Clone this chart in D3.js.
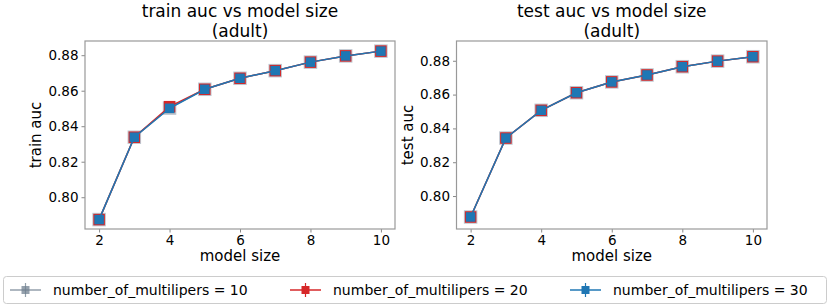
<!DOCTYPE html>
<html>
<head>
<meta charset="utf-8">
<script src="https://cdn.jsdelivr.net/npm/d3@7"></script>
<style>
  body { margin: 0; background: #fff; }
  text { font-family: "DejaVu Sans", sans-serif; fill: #000; }
</style>
</head>
<body>
<svg id="chart" width="830" height="308"></svg>
<script>
// model sizes on the x axis
const modelSizes = [2, 3, 4, 5, 6, 7, 8, 9, 10];
const xTicks = [2, 4, 6, 8, 10];
const yTicks = [0.80, 0.82, 0.84, 0.86, 0.88];

// train auc per number of multipliers
const train10 = [0.7874, 0.8338, 0.8502, 0.8608, 0.8670, 0.8713, 0.8761, 0.8796, 0.8823];
const train20 = [0.7874, 0.8338, 0.8510, 0.8608, 0.8670, 0.8713, 0.8761, 0.8796, 0.8823];
const train30 = [0.7874, 0.8338, 0.8501, 0.8608, 0.8670, 0.8713, 0.8761, 0.8796, 0.8823];
const trainErr = [0.0003, 0.0003, 0.0004, 0.0003, 0.0003, 0.0003, 0.0003, 0.0003, 0.0003];

// test auc per number of multipliers
const test10 = [0.7876, 0.8343, 0.8507, 0.8611, 0.8675, 0.8716, 0.8765, 0.8798, 0.8824];
const test20 = [0.7876, 0.8343, 0.8507, 0.8611, 0.8675, 0.8716, 0.8765, 0.8798, 0.8824];
const test30 = [0.7876, 0.8343, 0.8507, 0.8611, 0.8675, 0.8716, 0.8765, 0.8798, 0.8824];
const testErr = [0.0006, 0.0006, 0.0008, 0.0008, 0.0008, 0.0009, 0.0012, 0.0015, 0.0020];

const legendLabels = ["number_of_multilipers = 10", "number_of_multilipers = 20", "number_of_multilipers = 30"];

const styles = [
  {line: "#708090", fill: "#708090", stroke: "#a9b4c0", size: 12, opacity: 0.75},
  {line: "#d62728", fill: "#d62728", stroke: "#d62728", size: 10, opacity: 1},
  {line: "#1f77b4", fill: "#1f77b4", stroke: "#1f77b4", size: 8, opacity: 1}
];

const svg = d3.select("#chart");

const panels = [
  {left: 85, right: 395, title: "train auc vs model size", ylabel: "train auc",
   series: [train10, train20, train30], err: trainErr, ydom: [0.7821, 0.8880]},
  {left: 456.5, right: 767, title: "test auc vs model size", ylabel: "test auc",
   series: [test10, test20, test30], err: testErr, ydom: [0.7805, 0.8917]}
];
const plotTop = 41, plotBottom = 229;

panels.forEach(function(p) {
  const x = d3.scaleLinear().domain([1.6, 10.4]).range([p.left, p.right]);
  const y = d3.scaleLinear().domain(p.ydom).range([plotBottom, plotTop]);
  const g = svg.append("g");

  // axes
  const xa = g.append("g").attr("transform", `translate(0,${plotBottom})`)
    .call(d3.axisBottom(x).tickValues(xTicks).tickSize(3.5).tickPadding(3).tickFormat(d3.format("d")));
  const ya = g.append("g").attr("transform", `translate(${p.left},0)`)
    .call(d3.axisLeft(y).tickValues(yTicks).tickSize(3.5).tickPadding(3).tickFormat(d3.format(".2f")));
  [xa, ya].forEach(function(a) {
    a.select(".domain").remove();
    a.selectAll(".tick line").attr("stroke", "#888");
    a.selectAll("text").style("font-size", "13.5px").attr("fill", "#000");
  });

  // frame
  g.append("rect").attr("x", p.left).attr("y", plotTop)
    .attr("width", p.right - p.left).attr("height", plotBottom - plotTop)
    .attr("fill", "none").attr("stroke", "#999").attr("stroke-width", 1.2);

  p.series.forEach(function(vals, i) {
    const st = styles[i];
    const pts = modelSizes.map((m, j) => [m, vals[j], p.err[j]]);
    g.append("path").datum(pts)
      .attr("d", d3.line().x(d => x(d[0])).y(d => y(d[1])))
      .attr("fill", "none").attr("stroke", st.line).attr("stroke-width", 1.5)
      .attr("opacity", st.opacity);
    g.selectAll(null).data(pts).enter().append("line")
      .attr("x1", d => x(d[0])).attr("x2", d => x(d[0]))
      .attr("y1", d => y(d[1] - d[2])).attr("y2", d => y(d[1] + d[2]))
      .attr("stroke", st.line).attr("stroke-width", 1.2).attr("opacity", st.opacity);
    g.selectAll(null).data(pts).enter().append("rect")
      .attr("x", d => x(d[0]) - st.size / 2).attr("y", d => y(d[1]) - st.size / 2)
      .attr("width", st.size).attr("height", st.size)
      .attr("fill", st.fill).attr("stroke", st.stroke).attr("stroke-width", 1.5)
      .attr("opacity", st.opacity);
  });

  const cx = (p.left + p.right) / 2;
  g.append("text").attr("x", cx).attr("y", 17).attr("text-anchor", "middle")
    .style("font-size", "17px").text(p.title);
  g.append("text").attr("x", cx).attr("y", 37).attr("text-anchor", "middle")
    .style("font-size", "17px").text("(adult)");
  g.append("text").attr("x", cx).attr("y", 261).attr("text-anchor", "middle")
    .style("font-size", "15px").text("model size");
  g.append("text").attr("transform", `translate(${p.left - 44},${(plotTop + plotBottom) / 2}) rotate(-90)`)
    .attr("text-anchor", "middle").style("font-size", "15px").text(p.ylabel);
});

// legend
const lg = svg.append("g");
lg.append("rect").attr("x", 3.5).attr("y", 276.5).attr("width", 823).attr("height", 27)
  .attr("rx", 3).attr("fill", "#fff").attr("stroke", "#ccc");
const legendX = [10, 290, 570];
legendLabels.forEach(function(lab, i) {
  const st = styles[i];
  const lx = legendX[i], ly = 290;
  lg.append("line").attr("x1", lx).attr("x2", lx + 31).attr("y1", ly).attr("y2", ly)
    .attr("stroke", st.line).attr("stroke-width", 1.5).attr("opacity", st.opacity);
  lg.append("line").attr("x1", lx + 15.5).attr("x2", lx + 15.5).attr("y1", ly - 7).attr("y2", ly + 7)
    .attr("stroke", st.line).attr("stroke-width", 1.2).attr("opacity", st.opacity);
  lg.append("rect").attr("x", lx + 15.5 - 4).attr("y", ly - 4).attr("width", 8).attr("height", 8)
    .attr("fill", st.fill).attr("opacity", st.opacity);
  lg.append("text").attr("x", lx + 43).attr("y", ly + 5).style("font-size", "14px").text(lab);
});
</script>
</body>
</html>
